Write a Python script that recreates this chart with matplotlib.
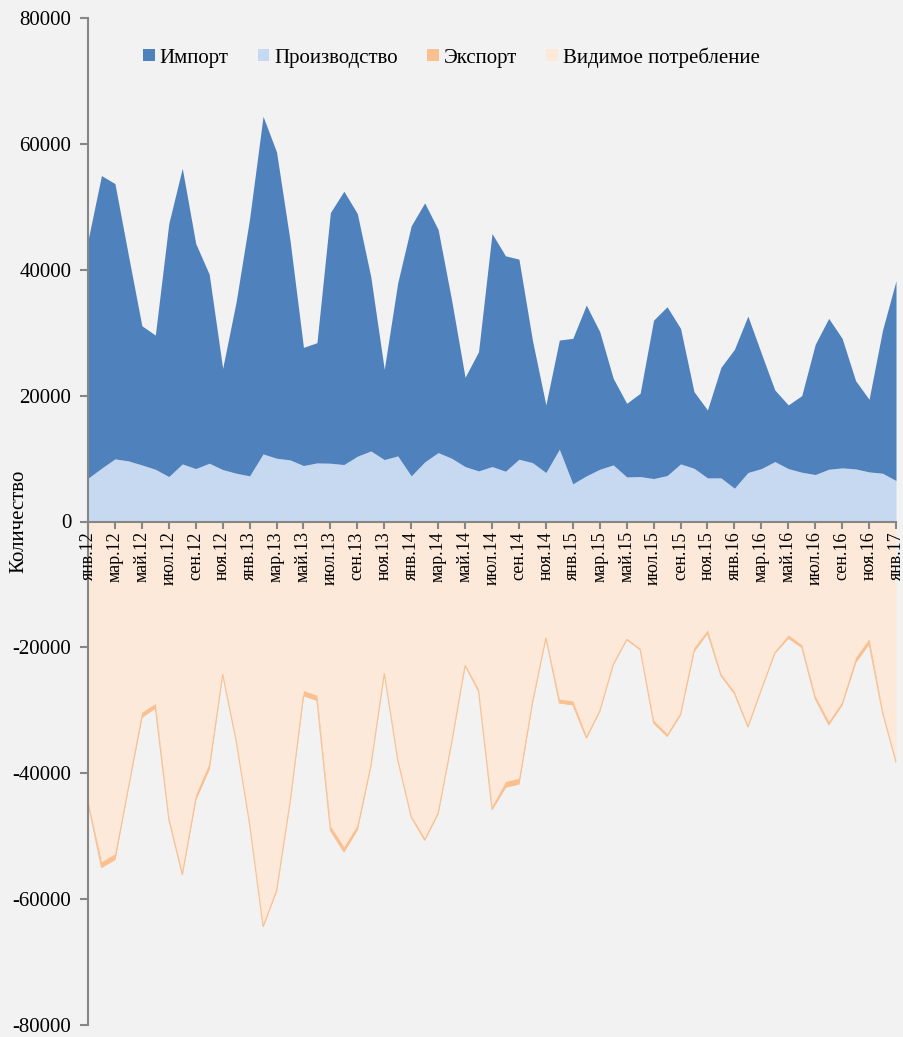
import matplotlib
matplotlib.use("Agg")
import matplotlib.pyplot as plt
from matplotlib.patches import Patch
import numpy as np

plt.rcParams['font.family'] = ['Liberation Serif', 'DejaVu Serif']

months = ['янв', 'фев', 'мар', 'апр', 'май', 'июн', 'июл', 'авг', 'сен', 'окт', 'ноя', 'дек']
years = ['12', '13', '14', '15', '16', '17']
categories = [f"{m}.{y}" for y in years for m in months][:61]

production = [6880, 8460, 9950, 9630, 8990, 8300, 7140, 9150, 8410, 9260, 8250, 7670,
              7250, 10740, 10050, 9790, 8890, 9310, 9260, 9050, 10370, 11210, 9840, 10420,
              7250, 9470, 10950, 10050, 8730, 8040, 8730, 7990, 9890, 9360, 7780, 11480,
              5980, 7250, 8300, 8990, 7090, 7140, 6820, 7300, 9150, 8460, 6930, 6930,
              5290, 7780, 8410, 9520, 8410, 7830, 7460, 8300, 8520, 8360, 7880, 7670,
              6510]

imports = [37820, 46500, 43740, 32670, 22110, 21320, 40210, 46980, 35760, 30040, 16080, 27240,
           40890, 53640, 48670, 34910, 18780, 19100, 39830, 43430, 38560, 27670, 14340, 27510,
           39730, 41160, 35440, 25130, 14180, 18940, 37030, 34220, 31800, 19470, 10740, 17350,
           23120, 27140, 21860, 13760, 11690, 13230, 25180, 26820, 21530, 12170, 10790, 17560,
           22060, 24860, 18300, 11380, 10110, 12170, 20680, 23970, 20580, 14020, 11530, 22750,
           31740]

exports = [-200, -900, -900, -300, -800, -700, -300, -300, -800, -900, -200, -200,
           -200, -200, -200, -200, -800, -800, -700, -800, -700, -300, -200, -200,
           -200, -300, -300, -200, -200, -300, -500, -900, -900, -300, -200, -600,
           -600, -300, -200, -200, -200, -200, -400, -400, -400, -600, -500, -300,
           -300, -200, -200, -300, -500, -400, -400, -500, -500, -800, -800, -300,
           -200]

consumption = [-44500, -54060, -52790, -42000, -30300, -28920, -47050, -55830, -43370, -38400, -24130, -34710,
               -47940, -64180, -58520, -44500, -26870, -27610, -48390, -51680, -48230, -38580, -23980, -37730,
               -46780, -50330, -46090, -34980, -22710, -26680, -45260, -41310, -40790, -28530, -18320, -28230,
               -28500, -34090, -29960, -22550, -18580, -20170, -31600, -33720, -30280, -20030, -17220, -24190,
               -27050, -32440, -26510, -20600, -18020, -19600, -27740, -31770, -28600, -21580, -18610, -30120,
               -38050]

series_names = ['Импорт', 'Производство', 'Экспорт', 'Видимое потребление']
colors = ['#4F81BD', '#C6D9F1', '#FAC090', '#FDE9D9']

bg = '#F2F2F2'
fig = plt.figure(figsize=(9.04, 10.37), dpi=100, facecolor=bg)
ax = fig.add_axes([88/904, 12/1037, (896-88)/904, (1025-18)/1037])
ax.set_facecolor(bg)

axis_col = '#868686'
for s in ['top', 'right']:
    ax.spines[s].set_visible(False)
ax.spines['bottom'].set_position(('data', 0))
ax.spines['left'].set_color(axis_col)
ax.spines['left'].set_linewidth(1.5)
ax.spines['bottom'].set_color(axis_col)
ax.spines['bottom'].set_linewidth(1.5)
ax.spines['bottom'].set_zorder(4)

x = np.arange(len(categories))
prod = np.array(production, dtype=float)
imp = np.array(imports, dtype=float)
exp_ = np.array(exports, dtype=float)
cons = np.array(consumption, dtype=float)

ax.fill_between(x, 0, prod, color=colors[1], lw=0, zorder=1)
ax.fill_between(x, prod, prod + imp, color=colors[0], lw=0, zorder=1)
ax.fill_between(x, 0, cons, color=colors[3], lw=0, zorder=1)
ax.fill_between(x, cons, cons + exp_, color=colors[2], lw=0, zorder=1)
ax.plot(x, cons + exp_, color=colors[2], lw=0.8, zorder=1)

ax.set_xlim(0, len(categories) - 1)
ax.set_ylim(-80000, 80000)
ax.set_yticks(np.arange(-80000, 80001, 20000))
ax.set_yticklabels([f"{v}" for v in range(-80000, 80001, 20000)], fontsize=15)

ax.set_xticks(x[::2])
ax.set_xticklabels(categories[::2], rotation=90, fontsize=13, va='top', ha='center')

ax.tick_params(axis='y', direction='out', length=6, width=1.5, color=axis_col, pad=6)
ax.tick_params(axis='x', direction='out', length=5, width=1.5, color=axis_col, pad=2)
ax.xaxis.set_zorder(4)
ax.yaxis.set_zorder(4)

ax.set_ylabel('Количество', fontsize=15)
ax.yaxis.set_label_coords(-60/808, 0.5)

handles = [Patch(facecolor=c, edgecolor='none') for c in colors]
leg = ax.legend(handles, series_names, loc='center', bbox_to_anchor=(0.45, 0.961),
                ncol=4, frameon=False, fontsize=15, handlelength=0.55, handleheight=0.55,
                handletextpad=0.25, columnspacing=1.4)

fig.savefig('out.png', dpi=100, facecolor=bg)
